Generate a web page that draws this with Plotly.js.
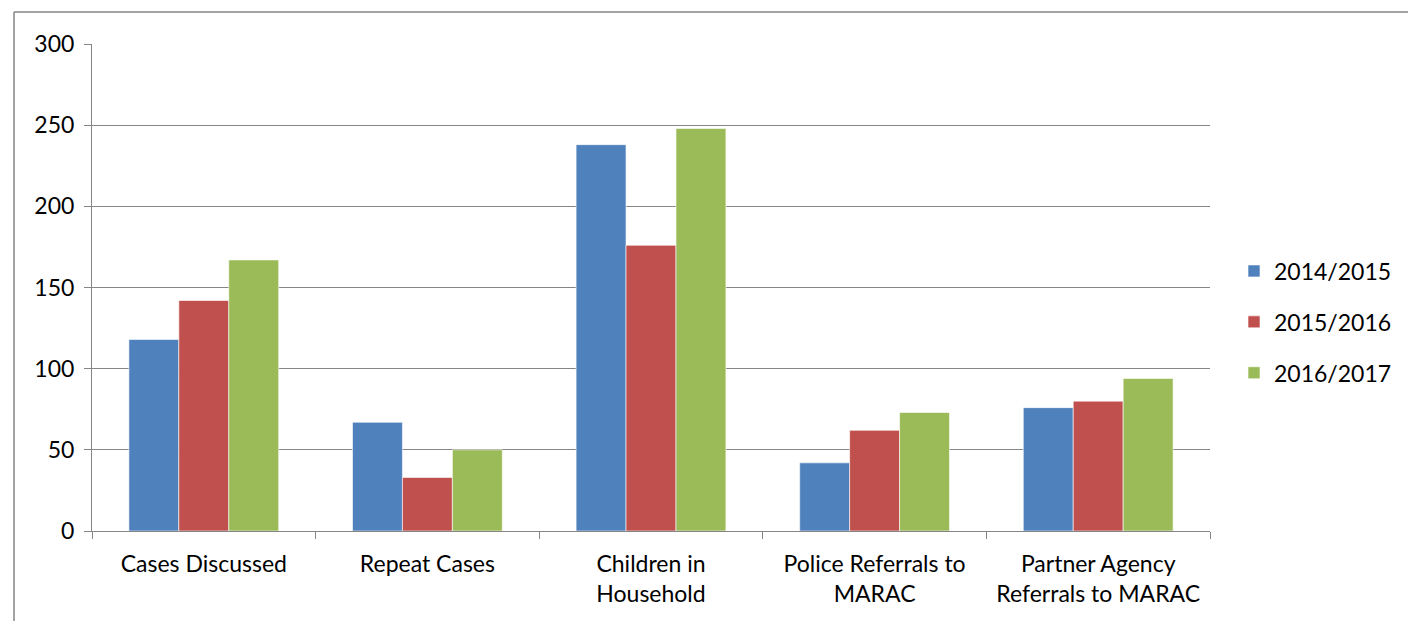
<!DOCTYPE html>
<html><head><meta charset="utf-8">
<script src="https://cdn.plot.ly/plotly-3.0.1.min.js"></script>
<style>html,body{margin:0;padding:0;background:#fff;}#chart{width:1408px;height:621px;}</style>
</head><body><div id="chart"></div>
<script>
const categories = ["Cases Discussed", "Repeat Cases", "Children in<br>Household", "Police Referrals to<br>MARAC", "Partner Agency<br>Referrals to MARAC"];
const seriesNames = ["2014/2015", "2015/2016", "2016/2017"];
const values2014 = [118, 67, 238, 42, 76];
const values2015 = [142, 33, 176, 62, 80];
const values2016 = [167, 50, 248, 73, 94];
const colors = ["#4F81BD", "#C0504D", "#9BBB59"];
const allValues = [values2014, values2015, values2016];

const font = "Lato, 'Open Sans', sans-serif";
const fs = 23;
const traces = allValues.map((v, i) => ({
  type: "bar", x: categories, y: v, name: seriesNames[i],
  marker: {color: colors[i], line: {color: "rgba(255,255,255,0.6)", width: 1}},
  legendgroup: "g" + i
}));
const W = 1408, H = 621, L = 92, R = 198, T = 44, B = 90;
const pw = W - L - R, ph = H - T - B;
const px = x => (x - L) / pw, py = y => (H - B - y) / ph;
const layout = {
  width: W, height: H,
  margin: {l: L, r: R, t: T, b: B, autoexpand: false},
  paper_bgcolor: "#fff", plot_bgcolor: "#fff",
  barmode: "group", bargap: 0.33, bargroupgap: 0,
  font: {family: font, size: fs, color: "#000"},
  showlegend: true,
  legend: {xref: "container", yref: "container", x: 1234 / W, xanchor: "left", y: 1 - 322 / H, yanchor: "middle",
           font: {size: fs, family: font},
           traceorder: "grouped", tracegroupgap: 18, itemwidth: 30},
  xaxis: {type: "category", showgrid: false, showline: true, linecolor: "#868686", linewidth: 1,
          ticks: "outside", tickson: "boundaries", ticklen: 7, tickcolor: "#868686",
          ticklabelstandoff: 12,
          tickfont: {size: fs, family: font}, automargin: false},
  yaxis: {range: [0, 300], dtick: 50, showgrid: true, gridcolor: "#868686", gridwidth: 1,
          showline: true, linecolor: "#868686", ticks: "outside", ticklen: 7, tickcolor: "#868686",
          ticklabelstandoff: 5,
          tickfont: {size: fs, family: font}, zeroline: false, automargin: false},
  shapes: [
    {type: "line", xref: "paper", yref: "paper", x0: px(14), x1: px(14), y0: py(12), y1: py(625), line: {color: "#868686", width: 1.5}},
    {type: "line", xref: "paper", yref: "paper", x0: px(14), x1: px(1412), y0: py(12), y1: py(12), line: {color: "#868686", width: 1.5}}
  ]
};
Plotly.newPlot("chart", traces, layout, {displayModeBar: false, staticPlot: true});
</script></body></html>
